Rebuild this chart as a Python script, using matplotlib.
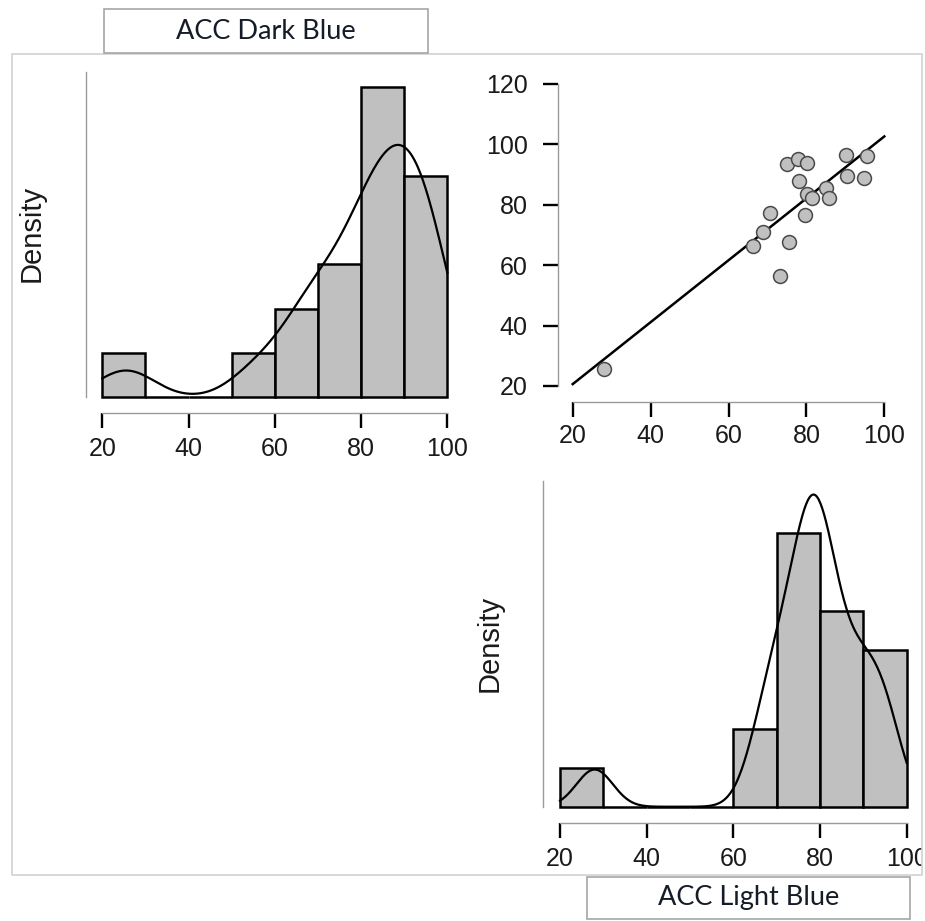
import numpy as np
import matplotlib.pyplot as plt
from matplotlib.patches import Rectangle
from matplotlib.transforms import Bbox

# scores per participant
acc_light = [28.0, 66.2, 68.8, 70.7, 73.3, 75.6, 75.1, 77.9, 78.2, 80.05,
             80.05, 79.6, 81.4, 85.0, 85.9, 90.1, 90.4, 95.5, 94.9]
acc_dark = [25.5, 66.4, 71.1, 77.4, 56.4, 67.8, 93.4, 95.1, 87.9, 94.0,
            83.5, 76.5, 82.1, 85.5, 82.2, 96.5, 89.6, 96.2, 89.0]
var_names = ['ACC Dark Blue', 'ACC Light Blue']
bin_edges = [20, 30, 40, 50, 60, 70, 80, 90, 100]
x_ticks = [20, 40, 60, 80, 100]
scatter_yticks = [20, 40, 60, 80, 100, 120]

W, H = 925, 921
BAR = '#c0c0c0'
SPINE = '#9a9a9a'

plt.rcParams['font.family'] = 'Liberation Sans'

fig = plt.figure(figsize=(W / 100, H / 100), dpi=100)


def box(left, top, right, bottom):
    # pixel box -> figure fraction
    return [left / W, 1 - bottom / H, (right - left) / W, (bottom - top) / H]


def kde(values, grid):
    v = np.asarray(values)
    n = len(v)
    q1, q3 = np.percentile(v, [25, 75])
    bw = 0.9 * min(v.std(ddof=1), (q3 - q1) / 1.34) * n ** -0.2
    z = (grid[:, None] - v[None, :]) / bw
    return np.exp(-0.5 * z ** 2).sum(axis=1) / (n * bw * np.sqrt(2 * np.pi))


def style_axes(ax, pad):
    for side in ['top', 'right']:
        ax.spines[side].set_visible(False)
    for side in ['left', 'bottom']:
        ax.spines[side].set_color(SPINE)
        ax.spines[side].set_linewidth(1.0)
    ax.tick_params(axis='both', length=11, width=1.7, color='black',
                   labelsize=18, pad=pad, labelcolor='#1a1a1a')


def density_panel(ax, values, xlim, ylim):
    ax.hist(values, bins=bin_edges, density=True, color=BAR,
            edgecolor='black', linewidth=1.8, zorder=2)
    grid = np.linspace(20, 100, 400)
    ax.plot(grid, kde(values, grid), color='black', lw=1.6, zorder=3)
    ax.set_xlim(xlim)
    ax.set_ylim(ylim)
    style_axes(ax, pad=6)
    ax.set_xticks(x_ticks)
    ax.set_yticks([])
    ax.spines['bottom'].set_bounds(20, 100)
    ax.spines['left'].set_bounds(0, ylim[1])


# top-left: ACC Dark Blue histogram
ax1 = fig.add_axes(box(86, 72, 460, 413.3))
density_panel(ax1, acc_dark, (16.22, 102.94), (-0.0019, 0.03865))

# top-right: scatter with regression line
ax2 = fig.add_axes(box(558.3, 80, 900, 401.7))
ax2.scatter(acc_light, acc_dark, s=100, color=BAR, edgecolors='#4a4a4a',
            linewidths=1.1, zorder=3)
slope, intercept = np.polyfit(acc_light, acc_dark, 1)
line_x = np.array([x_ticks[0], x_ticks[-1]])
ax2.plot(line_x, intercept + slope * line_x, color='black', lw=1.8, zorder=2)
ax2.set_xlim(16.30, 104.03)
ax2.set_ylim(14.80, 121.32)
style_axes(ax2, pad=5)
ax2.tick_params(axis='y', pad=11)
ax2.set_xticks(x_ticks)
ax2.set_yticks(scatter_yticks)
ax2.spines['bottom'].set_bounds(20, 100)
ax2.spines['left'].set_bounds(20, 120)

# bottom-right: ACC Light Blue histogram
ax3 = fig.add_axes(box(543.3, 481, 915, 823.3))
density_panel(ax3, acc_light, (16.15, 101.92), (-0.00223, 0.04384))
fig.canvas.draw()
for lab in ax3.get_xticklabels():
    lab.set_clip_box(Bbox([[0, 0], [922, H]]))
    lab.set_clip_on(True)

# y labels
fig.text(31.7 / W, 1 - 233 / H, 'Density', rotation=90, fontsize=21,
         ha='center', va='center', color='#1a1a1a')
fig.text(490 / W, 1 - 643 / H, 'Density', rotation=90, fontsize=21,
         ha='center', va='center', color='#1a1a1a')

# outer frame and variable name boxes
fig.patches.append(Rectangle((11.7 / W, 1 - 875 / H), (922 - 11.7) / W,
                             (875 - 54.3) / H, transform=fig.transFigure,
                             fill=False, edgecolor='#d2d2d2', lw=1.2))
name_boxes = [(104.3, 9.3, 428.3, 53.3), (586.7, 876.7, 910, 919)]
for name, (l, t, r, b) in zip(var_names, name_boxes):
    fig.patches.append(Rectangle((l / W, 1 - b / H), (r - l) / W, (b - t) / H,
                                 transform=fig.transFigure, fill=False,
                                 edgecolor='#a6a6a6', lw=1.2))
    fig.text((l + r) / 2 / W, 1 - (t + b) / 2 / H, name, fontsize=19.5,
             family='Lato', ha='center', va='center', color='#141c28')

fig.savefig('out.png', dpi=100)
